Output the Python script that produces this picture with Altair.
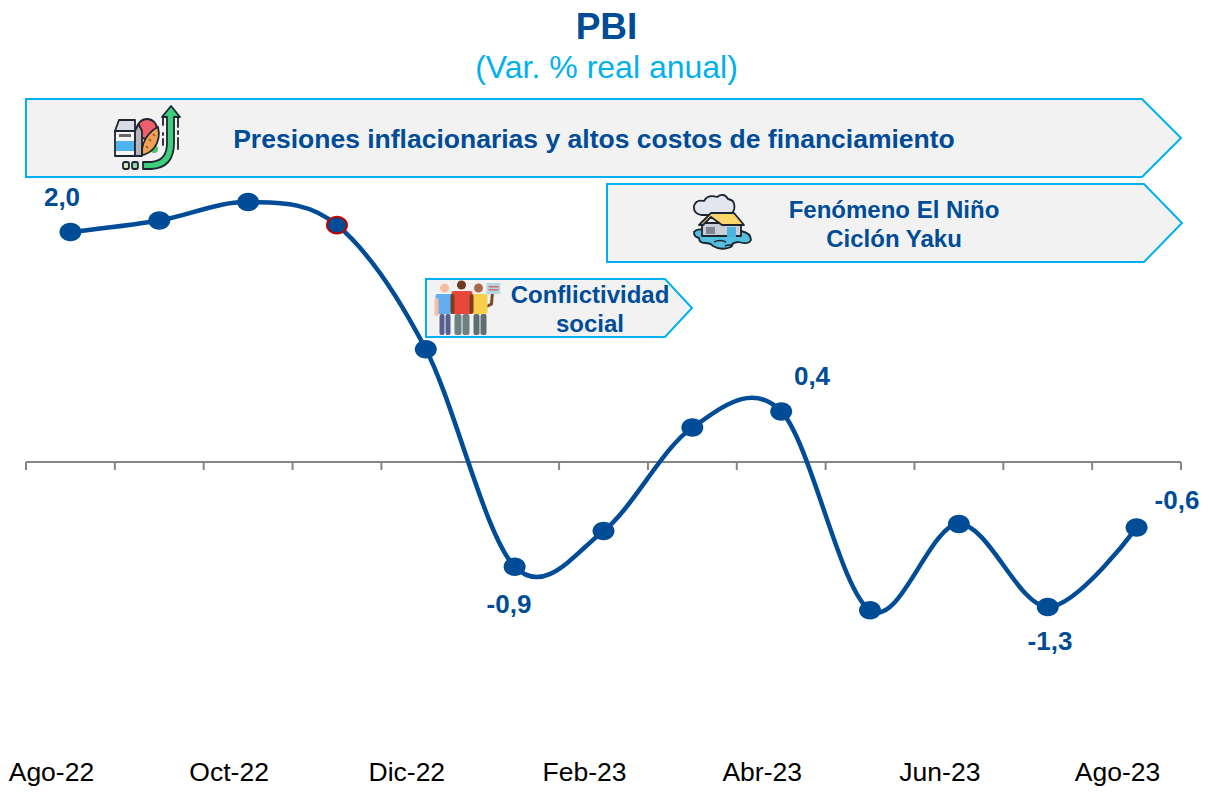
import base64
import altair as alt
import pandas as pd

months = ["Ago-22","Sep-22","Oct-22","Nov-22","Dic-22","Ene-23","Feb-23","Mar-23","Abr-23","May-23","Jun-23","Jul-23","Ago-23"]
values = [2.0, 2.1, 2.26, 2.06, 0.98, -0.91, -0.6, 0.3, 0.44, -1.29, -0.54, -1.26, -0.57]
axis_labels = ["Ago-22","Oct-22","Dic-22","Feb-23","Abr-23","Jun-23","Ago-23"]
axis_positions = [0, 2, 4, 6, 8, 10, 12]
value_labels = {0:"2,0", 5:"-0,9", 8:"0,4", 11:"-1,3", 12:"-0,6"}
BLUE = "#004C97"; CYAN = "#00B0F0"; FONT = "Liberation Sans"

L, R, T, B = 26.0, 1181.0, 90.0, 760.0
W, H = R-L, B-T
UX = W/13.0; UY = 115.0; Y0 = 462.0
def X(px): return (px-L)/UX - 0.5
def Y(py): return (Y0-py)/UY
xs = alt.Scale(domain=[-0.5, 12.5], nice=False, zero=False)
ys = alt.Scale(domain=[Y(B), Y(T)], nice=False, zero=False)
ex = alt.X("x:Q", scale=xs, axis=None)
ey = alt.Y("y:Q", scale=ys, axis=None)

df = pd.DataFrame({"x": range(13), "y": values, "m": months})

def banner(x0, xb, x1, y0, y1):
    d = pd.DataFrame({"x":[X(x0),X(xb),X(x1)],
                      "y":[Y(y0),Y(y0),Y((y0+y1)/2)],
                      "y2":[Y(y1),Y(y1),Y((y0+y1)/2)]})
    return alt.Chart(d).mark_area(fill="#F2F2F2", stroke=CYAN, strokeWidth=2, interpolate="linear").encode(
        ex, ey, y2="y2:Q")

def txt(px, py, s, size, color=BLUE, bold=True):
    d = pd.DataFrame({"x":[X(px)], "y":[Y(py)], "t":[s]})
    return alt.Chart(d).mark_text(font=FONT, fontSize=size, fontWeight="bold" if bold else "normal",
                                  color=color, align="center", baseline="middle").encode(ex, ey, text="t:N")

def icon(cx, cy, w, h, svg):
    uri = "data:image/svg+xml;base64," + base64.b64encode(svg.encode()).decode()
    d = pd.DataFrame({"x":[X(cx)], "y":[Y(cy)], "u":[uri]})
    return alt.Chart(d).mark_image(width=w, height=h).encode(ex, ey, url="u:N")

K = 'stroke="#1d2530" stroke-width="1.8" stroke-linejoin="round" stroke-linecap="round"'
food = f'''<svg xmlns="http://www.w3.org/2000/svg" width="68" height="66" viewBox="0 0 68 66">
<path d="M50 12 V20 M50 28 V30 M65 12 V22 M65 26 V29 M65 33 V44 M50 34 V40" {K} fill="none"/>
<path d="M58 1 L67 12 L61 12 L61 38 Q61 63 38 64 L30 64 L30 57 L38 57 Q54 56 54 38 L54 12 L49 12 Z" fill="#3ecf7e" {K}/>
<rect x="10" y="57" width="6" height="7" rx="2" fill="#cfe8c8" {K}/><rect x="19" y="57" width="6" height="7" rx="2" fill="#8fd9a8" {K}/>
<circle cx="34" cy="24" r="10" fill="#ee5f6e" {K}/>
<circle cx="41" cy="44" r="4" fill="#4ec46e"/>
<rect x="2" y="26" width="20" height="25" fill="#f6f6f6" {K}/>
<path d="M6 15 L22 15 L22 26 L2 26 Z" fill="#d9dde3" {K}/>
<rect x="3" y="36" width="18" height="10" fill="#4db4f0"/><rect x="6" y="29" width="12" height="3" fill="#666"/>
<path d="M22 26 L25.5 19 L29 26 L29 51 L22 51 Z" fill="#b9b3bd" {K}/>
<path d="M29 50 Q28 38 36 29 Q40 24 45 22 Q48 34 41 43 Q36 49 29 50Z" fill="#f2a154" {K}/>
<path d="M36 34 L38 36 M33 41 L35 43 M40 29 L42 31" stroke="#8a5320" stroke-width="1.5"/>
</svg>'''
house = f'''<svg xmlns="http://www.w3.org/2000/svg" width="60" height="58" viewBox="0 0 60 58">
<path d="M8 22 Q0 20 1 13 Q3 6 11 8 Q15 1 24 4 Q31 -1 35 6 Q43 7 41 17 Q39 22 30 22 Z" fill="#e3e6ee" {K}/>
<path d="M1 39 Q4 35 13 37 L48 38 Q58 40 58 47 Q56 52 45 49 Q38 50 38 54 Q28 58 20 53 Q18 50 12 50 Q6 50 6 45 Q1 44 1 39Z" fill="#55bfe0" {K}/>
<rect x="9" y="30" width="39" height="13" fill="#c9ced8" {K}/>
<path d="M6 32 L18 20 L41 20 L51 32 L29 32 L18 24 L10 32 Z" fill="#fbd66a" {K}/>
<rect x="13" y="34" width="9" height="7" fill="#7d8794"/><rect x="34" y="34" width="9" height="10" fill="#4db4e0"/>
<path d="M21 49 Q27 46 33 49 M32 53 Q36 51 40 53" stroke="#1d2530" stroke-width="1.4" fill="none"/>
</svg>'''
people = '''<svg xmlns="http://www.w3.org/2000/svg" width="67" height="56" viewBox="0 0 67 56">
<path d="M46 30 L58 24 L59 12" stroke="#7a4a30" stroke-width="3" fill="none"/>
<rect x="53" y="3" width="14" height="11" fill="#b5d8e0"/><rect x="55" y="6" width="10" height="1.5" fill="#d86a6a"/><rect x="55" y="9" width="10" height="1.5" fill="#d86a6a"/>
<circle cx="45" cy="8" r="4.5" fill="#a9694a"/><rect x="39" y="14" width="15" height="20" rx="2" fill="#f8cf4a"/>
<rect x="40" y="34" width="6" height="21" rx="2" fill="#5f6e72"/><rect x="47" y="34" width="6" height="21" rx="2" fill="#5f6e72"/>
<circle cx="11" cy="8" r="4.5" fill="#f5bfa0"/><rect x="2" y="14" width="17" height="20" rx="2" fill="#62aef0"/><rect x="1" y="18" width="4" height="18" rx="2" fill="#f5bfa0"/>
<rect x="6" y="34" width="5" height="21" rx="2" fill="#56608e"/><rect x="12" y="34" width="5" height="21" rx="2" fill="#56608e"/>
<circle cx="28" cy="5" r="4.5" fill="#6e3a22"/><rect x="18" y="11" width="21" height="23" rx="2" fill="#e8483a"/>
<rect x="17" y="14" width="4" height="20" rx="2" fill="#7a4020"/><rect x="36" y="14" width="4" height="20" rx="2" fill="#7a4020"/>
<rect x="21" y="34" width="7" height="21" rx="2" fill="#6f8080"/><rect x="29" y="34" width="7" height="21" rx="2" fill="#6f8080"/>
</svg>'''

ELLIPSE = "M -1 0 A 1 0.84 0 1 1 1 0 A 1 0.84 0 1 1 -1 0 Z"

layers = []
layers += [banner(26, 1142, 1181, 99, 177), banner(607, 1144, 1182, 184, 262), banner(426, 665, 692, 279, 337)]
layers += [icon(147, 138, 68, 66, food), icon(723, 222, 60, 58, house), icon(467, 308, 67, 56, people)]
layers += [txt(594, 140, "Presiones inflacionarias y altos costos de financiamiento", 26.5),
           txt(894, 211, "Fenómeno El Niño", 24), txt(894, 240, "Ciclón Yaku", 24),
           txt(590, 296, "Conflictividad", 24), txt(590, 325, "social", 24)]

# zero axis line and ticks
tick_df = pd.DataFrame({"x":[i-0.5 for i in range(14)], "y":[0.0]*14, "y2":[Y(470)]*14})
layers.append(alt.Chart(pd.DataFrame({"x":[-0.5],"x2":[12.5],"y":[0.0]})).mark_rule(color="#868686", strokeWidth=2).encode(ex, x2="x2:Q", y=ey))
layers.append(alt.Chart(tick_df).mark_rule(color="#868686", strokeWidth=2).encode(ex, ey, y2="y2:Q"))

layers.append(alt.Chart(df).mark_line(color=BLUE, strokeWidth=4.5, interpolate="cardinal", tension=0).encode(ex, ey))
layers.append(alt.Chart(df[df.x!=3]).mark_point(filled=True, fill=BLUE, strokeWidth=0, size=484, opacity=1, shape=ELLIPSE).encode(ex, ey))
layers.append(alt.Chart(df[df.x==3]).mark_point(filled=True, fill=BLUE, stroke="#C00000", strokeWidth=2, size=400, opacity=1, shape=ELLIPSE).encode(ex, ey))

for (px, py), (i, s) in zip([(62,198),(509,605),(812,377),(1050,642),(1177,501)], value_labels.items()):
    layers.append(txt(px, py, s, 26))

# bottom category labels
lab_df = pd.DataFrame({"x":axis_positions, "t":axis_labels})
layers.append(alt.Chart(lab_df).mark_text(font=FONT, fontSize=26.5, color="#000000", align="center", baseline="alphabetic",
    dx=-19, y=H+21).encode(x=ex, text="t:N"))

chart = alt.layer(*layers).properties(
    width=W, height=H,
    title=alt.TitleParams("PBI", subtitle="(Var. % real anual)", anchor="middle", font=FONT, fontSize=37, fontWeight="bold",
                          color=BLUE, subtitleFont=FONT, subtitleFontSize=32, subtitleColor=CYAN, subtitleFontWeight="normal",
                          offset=5, dx=3, subtitlePadding=6),
    padding={"left":18,"top":82,"right":20,"bottom":27},
    autosize=alt.AutoSizeParams(type="none"),
    background="white",
).configure_view(stroke=None)
chart.save("out.html", embed_options={"renderer": "svg", "actions": False})
